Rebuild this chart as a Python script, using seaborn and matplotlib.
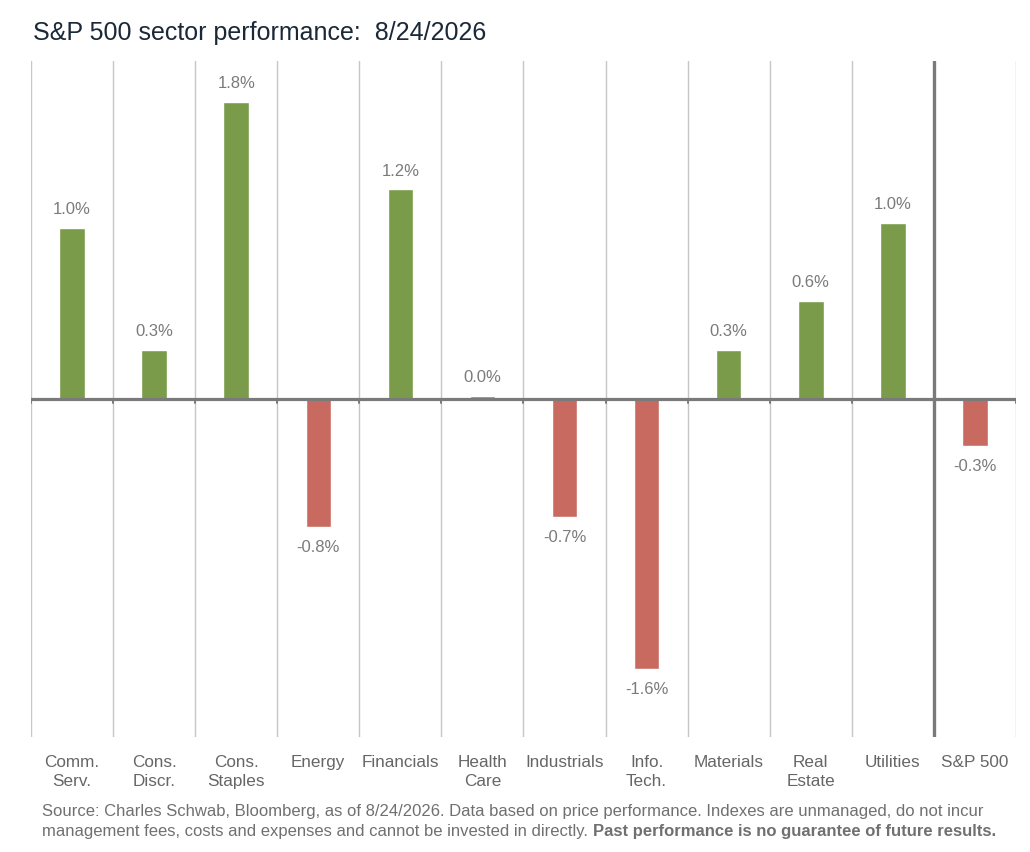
import seaborn as sns
import matplotlib.pyplot as plt
import pandas as pd

# 数据
sectors = ['Comm.\nServ.', 'Cons.\nDiscr.', 'Cons.\nStaples', 'Energy', 'Financials',
           'Health\nCare', 'Industrials', 'Info.\nTech.', 'Materials', 'Real\nEstate',
           'Utilities', 'S&P 500']
perf = [1.01, 0.29, 1.76, -0.76, 1.24, 0.02, -0.70, -1.60, 0.29, 0.58, 1.04, -0.28]
perf_labels = ['1.0%', '0.3%', '1.8%', '-0.8%', '1.2%', '0.0%', '-0.7%', '-1.6%',
               '0.3%', '0.6%', '1.0%', '-0.3%']

green = '#7a9c4a'
red = '#c86a60'

df = pd.DataFrame({'sector': sectors, 'perf': perf})
df['sign'] = ['up' if v >= 0 else 'down' for v in perf]

sns.set_style('white')
plt.rcParams['font.family'] = ['Liberation Sans', 'DejaVu Sans']

fig = plt.figure(figsize=(10.3, 8.53), dpi=100)
ax = fig.add_axes([0.0301, 0.1348, 0.9563, 0.7925])

sns.barplot(data=df, x='sector', y='perf', hue='sign',
            palette={'up': green, 'down': red}, width=0.31,
            legend=False, ax=ax, saturation=1)

ax.set_xlim(-0.5, len(sectors) - 0.5)
ax.set_ylim(-2, 2)

# 竖向分隔线
for i in range(len(sectors) + 1):
    x = i - 0.5
    if i == len(sectors) - 1:
        ax.axvline(x, color='#7a7a7a', lw=2.4, zorder=1)
    else:
        ax.axvline(x, color='#c6c6c6', lw=1, zorder=0)
    ax.plot([x, x], [0, -0.025], color='#7a7a7a', lw=1.4, zorder=3)
ax.axhline(0, color='#7a7a7a', lw=2.3, zorder=3)

# 数值标签
for i, (v, s) in enumerate(zip(perf, perf_labels)):
    off = 14 if v >= 0 else -14
    ax.annotate(s, xy=(i, v), xytext=(0, off), textcoords='offset points',
                ha='center', va='center', fontsize=12, color='#7b7b7b')

ax.set_xlabel('')
ax.set_ylabel('')
ax.set_yticks([])
ax.set_xticks(range(len(sectors)))
ax.set_xticklabels(sectors, fontsize=12.3, color='#666666', linespacing=1.35)
ax.tick_params(axis='x', length=0, pad=12)
for sp in ax.spines.values():
    sp.set_visible(False)

fig.text(0.032, 0.961, 'S&P 500 sector performance:  8/24/2026', fontsize=18,
         color='#1b2838', va='center', ha='left')

t1 = fig.text(0.041, 0.0434, 'Source: Charles Schwab, Bloomberg, as of 8/24/2026. Data based on price '
              'performance. Indexes are unmanaged, do not incur',
              fontsize=12, color='#707070', va='baseline', ha='left')
t2 = fig.text(0.041, 0.0199, 'management fees, costs and expenses and cannot be invested in directly. ',
              fontsize=12, color='#707070', va='baseline', ha='left')
ax.annotate('Past performance is no guarantee of future results.', xy=(1, 0), xycoords=t2,
            va='bottom', ha='left', fontsize=12, color='#707070', fontweight='bold')

fig.savefig('out.png', dpi=100)
